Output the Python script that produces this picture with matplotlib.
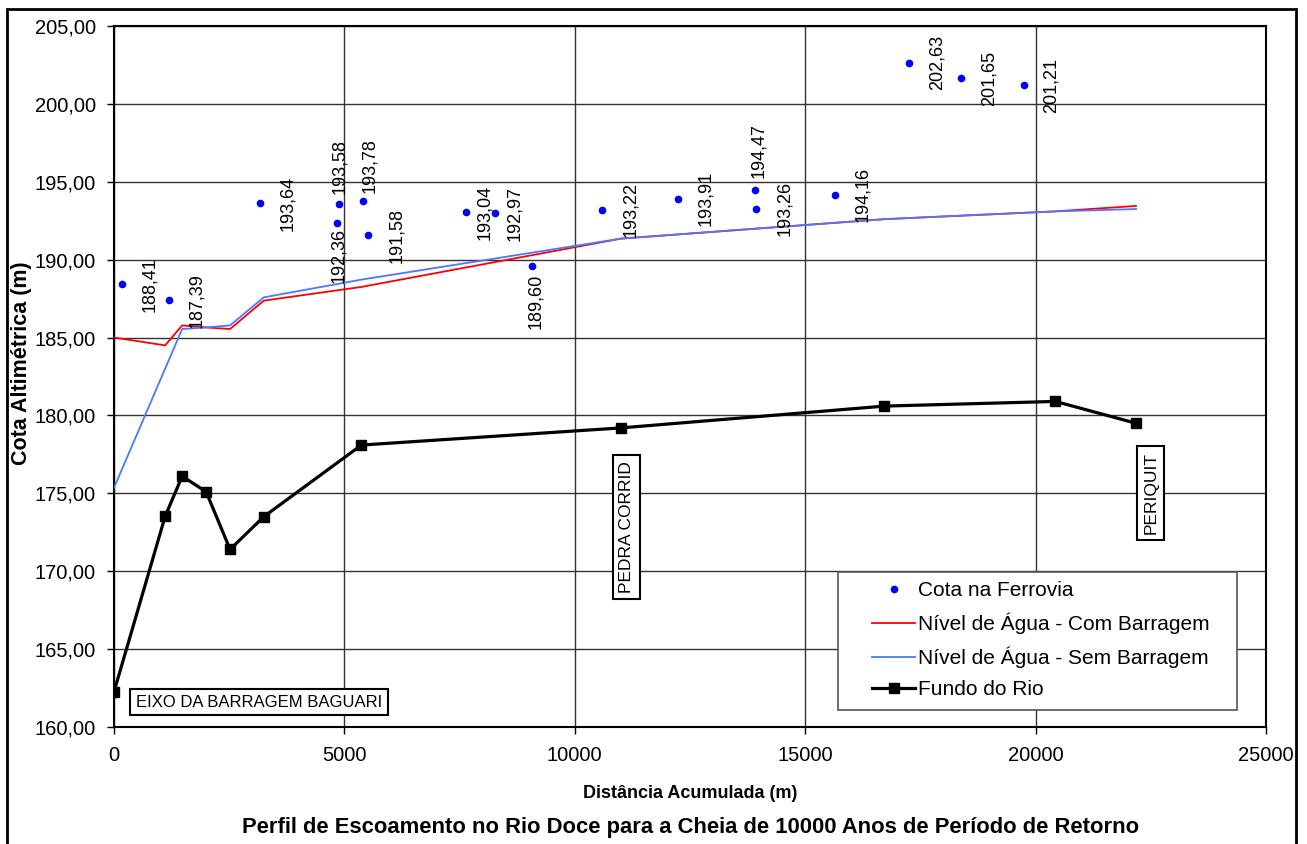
import matplotlib
matplotlib.use("Agg")
from matplotlib import pyplot as plt
from matplotlib.patches import Rectangle
from matplotlib.ticker import FuncFormatter

plt.rcParams['font.family'] = ['Liberation Sans', 'DejaVu Sans']

# Cota na Ferrovia (pontos)
ferrovia_x = [175, 1190, 3160, 4830, 4890, 5410, 5520, 7640, 8270, 9070,
              10600, 12230, 13920, 13940, 15650, 17250, 18380, 19740]
ferrovia_y = [188.41, 187.39, 193.64, 192.36, 193.58, 193.78, 191.58, 193.04, 192.97, 189.60,
              193.22, 193.91, 194.47, 193.26, 194.16, 202.63, 201.65, 201.21]

# perfil: distancias das secoes
secao_x = [0, 1110, 1480, 2000, 2520, 3250, 5370, 11000, 16720, 20430, 22180]
nivel_com = [185.0, 184.5, 185.78, 185.65, 185.55, 187.37, 188.25, 191.35, 192.6, 193.1, 193.45]
nivel_sem = [175.35, 183.0, 185.55, 185.65, 185.78, 187.58, 188.72, 191.35, 192.6, 193.1, 193.25]
fundo_rio = [162.25, 173.52, 176.1, 175.1, 171.4, 173.5, 178.1, 179.2, 180.6, 180.9, 179.5]

fig = plt.figure(figsize=(13.07, 8.44), dpi=100)
ax = fig.add_axes([0.0872, 0.1386, 0.9686 - 0.0872, 0.9692 - 0.1386])

ax.plot(ferrovia_x, ferrovia_y, linestyle='none', marker='o', markersize=4.5,
        color='#0000ff', label='Cota na Ferrovia', zorder=4)
ax.plot(secao_x, nivel_com, color='#ff0000', lw=1.3, label='Nível de Água - Com Barragem', zorder=3)
ax.plot(secao_x, nivel_sem, color='#4a78ff', lw=1.3, label='Nível de Água - Sem Barragem', zorder=3)
ax.plot(secao_x, fundo_rio, color='black', lw=2.3, marker='s', markersize=6.5,
        label='Fundo do Rio', zorder=4)

# posicao dos rotulos (excel joga alguns acima/abaixo)
especiais = {3: ('below', 2, -5), 4: ('above', 0, 10), 5: ('above', 6, 8),
             7: ('right', 19, 0), 8: ('right', 20, 0), 9: ('below', 4, -8),
             12: ('above', 3, 12)}
for i, (xv, yv) in enumerate(zip(ferrovia_x, ferrovia_y)):
    modo, dx, dy = especiais.get(i, ('right', 28, 0))
    va = {'right': 'center', 'above': 'bottom', 'below': 'top'}[modo]
    ax.annotate(f"{yv:.2f}".replace('.', ','), (xv, yv), xytext=(dx, dy),
                textcoords='offset pixels', rotation=90, ha='center', va=va,
                fontsize=13, zorder=5)

ax.set_xlim(0, 25000)
ax.set_ylim(160, 205)
ax.set_xticks(range(0, 25001, 5000))
ax.set_yticks(range(160, 206, 5))
ax.yaxis.set_major_formatter(FuncFormatter(lambda v, p: f"{v:.2f}".replace('.', ',')))
ax.tick_params(labelsize=14.5, length=5, width=1, direction='out')
ax.tick_params(axis='y', pad=8)
ax.tick_params(axis='x', pad=9)
ax.grid(True, color='#333333', lw=1)
ax.set_axisbelow(True)
for s in ax.spines.values():
    s.set_linewidth(1.5)

ax.set_xlabel('Distância Acumulada (m)', fontsize=13, fontweight='bold', labelpad=14)
fig.text(22 / 1307, 1 - 363 / 844, 'Cota Altimétrica (m)', rotation=90, ha='center', va='center',
         fontsize=15.5, fontweight='bold')
fig.text(0.528, 0.019, 'Perfil de Escoamento no Rio Doce para a Cheia de 10000 Anos de Período de Retorno',
         ha='center', va='center', fontsize=15.8, fontweight='bold')

box = dict(boxstyle='square,pad=0.35', fc='white', ec='black', lw=1.5)
ax.text(480, 161.6, 'EIXO DA BARRAGEM BAGUARI', fontsize=12, ha='left', va='center',
        bbox=box, zorder=6)
ax.text(11130, 168.6, 'PEDRA CORRID', fontsize=12.5, rotation=90, ha='center', va='bottom',
        bbox=box, zorder=6)
ax.text(22500, 172.4, 'PERIQUIT', fontsize=12.5, rotation=90, ha='center', va='bottom',
        bbox=box, zorder=6)

# caixa da legenda desenhada a parte
ax.add_patch(Rectangle((0.6285, 0.0243), 0.9748 - 0.6285, 0.2211 - 0.0243,
                       transform=ax.transAxes, fc='white', ec='#555555', lw=1.2, zorder=7))
leg = ax.legend(loc='upper left', bbox_to_anchor=(0.658, 0.2085), fontsize=15,
                frameon=False, borderpad=0, labelspacing=0.6, handlelength=2.07,
                handletextpad=0.15, borderaxespad=0)
leg.set_zorder(8)

fig.patches.append(Rectangle((0.0054, -0.01), 0.9862, 0.9995, transform=fig.transFigure,
                             fill=False, ec='black', lw=2))

fig.savefig('out.png', dpi=100)
